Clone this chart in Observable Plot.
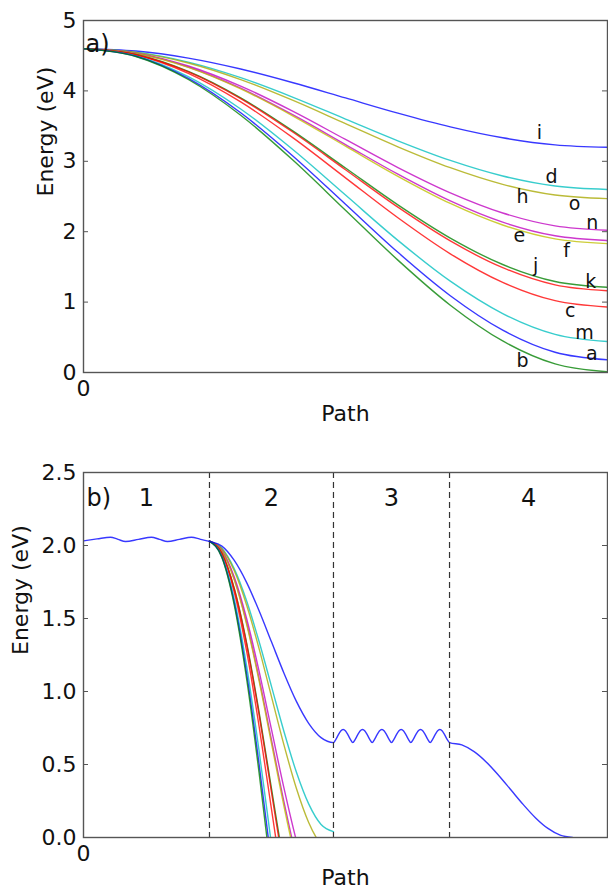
<!DOCTYPE html>
<html><head><meta charset="utf-8">
<script src="https://cdn.jsdelivr.net/npm/d3@7"></script>
<script src="https://cdn.jsdelivr.net/npm/@observablehq/plot@0.6"></script>
<style>body{margin:0;background:#fff} #chart svg{display:block}</style>
</head><body><div id="chart"></div>
<script>
// ---------- shared ----------
const pathSteps = [0, 0.1, 0.2, 0.3, 0.4, 0.5, 0.6, 0.7, 0.8, 0.9, 1];
const curveNames  = ["i", "d", "h", "n", "e", "f", "j", "k", "c", "m", "a", "b"];
const curveColors = ["#0000ff", "#00bfbf", "#a8a800", "#bf00bf", "#bf00bf", "#bfbf00",
                     "#008000", "#ff0000", "#ff0000", "#00bfbf", "#0000ff", "#008000"];

// ---------- panel a: energies along path (eV) ----------
const A_i = [4.6, 4.566, 4.466, 4.311, 4.116, 3.9, 3.684, 3.489, 3.334, 3.234, 3.2];
const A_d = [4.6, 4.551, 4.409, 4.188, 3.909, 3.6, 3.291, 3.012, 2.791, 2.649, 2.6];
const A_h = [4.6, 4.548, 4.397, 4.161, 3.864, 3.535, 3.206, 2.909, 2.673, 2.522, 2.47];
const A_n = [4.6, 4.537, 4.354, 4.068, 3.709, 3.31, 2.911, 2.552, 2.266, 2.083, 2.02];
const A_e = [4.6, 4.533, 4.34, 4.038, 3.658, 3.238, 2.817, 2.437, 2.135, 1.942, 1.875];
const A_f = [4.6, 4.532, 4.335, 4.029, 3.643, 3.215, 2.787, 2.401, 2.095, 1.898, 1.83];
const A_j = [4.6, 4.517, 4.276, 3.901, 3.429, 2.905, 2.381, 1.909, 1.534, 1.293, 1.21];
const A_k = [4.6, 4.516, 4.271, 3.891, 3.412, 2.88, 2.348, 1.869, 1.489, 1.244, 1.16];
const A_c = [4.6, 4.51, 4.25, 3.844, 3.332, 2.765, 2.198, 1.686, 1.28, 1.02, 0.93];
const A_m = [4.6, 4.498, 4.203, 3.743, 3.163, 2.52, 1.877, 1.297, 0.837, 0.542, 0.44];
const A_a = [4.6, 4.492, 4.178, 3.689, 3.073, 2.39, 1.707, 1.091, 0.602, 0.288, 0.18];
const A_b = [4.6, 4.488, 4.162, 3.654, 3.014, 2.305, 1.596, 0.956, 0.448, 0.122, 0.01];
const energiesA = [A_i, A_d, A_h, A_n, A_e, A_f, A_j, A_k, A_c, A_m, A_a, A_b];

const labelText = ["i", "d", "h", "o", "n", "e", "f", "j", "k", "c", "m", "a", "b"];
const labelX    = [0.870, 0.893, 0.838, 0.937, 0.971, 0.832, 0.922, 0.863, 0.968, 0.929, 0.956, 0.970, 0.838];
const labelY    = [3.41, 2.78, 2.49, 2.40, 2.13, 1.94, 1.73, 1.52, 1.28, 0.88, 0.56, 0.27, 0.17];
const yTicksA = [0, 1, 2, 3, 4, 5];
const xTicks = [0];

// ---------- panel b ----------
const regionBounds = [0, 1.016, 2.016, 2.952, 4.226];
const regionNames = ["1", "2", "3", "4"];
const yTicksB = [0, 0.5, 1.0, 1.5, 2.0, 2.5];

// region 1 (blue)
const R1_x = [0, 0.109, 0.218, 0.278, 0.339, 0.444, 0.548, 0.613, 0.677, 0.774, 0.871, 0.944, 1.016];
const R1_e = [2.032, 2.045, 2.057, 2.042, 2.027, 2.042, 2.057, 2.042, 2.027, 2.042, 2.057, 2.042, 2.028];
// region 2 (one per curve, sampled on pathSteps)
const B_i = [2.03, 1.996, 1.898, 1.746, 1.553, 1.34, 1.127, 0.934, 0.782, 0.684, 0.65];
const B_d = [2.03, 1.981, 1.84, 1.62, 1.342, 1.035, 0.728, 0.45, 0.23, 0.089, 0.04];
const B_h = [2.03, 1.978, 1.827, 1.591, 1.294, 0.965, 0.636, 0.339, 0.103, -0.048, -0.1];
const B_n = [2.03, 1.967, 1.784, 1.498, 1.139, 0.74, 0.341, -0.018, -0.304, -0.487];
const B_e = [2.03, 1.963, 1.77, 1.468, 1.089, 0.668, 0.247, -0.133, -0.435];
const B_f = [2.03, 1.962, 1.765, 1.459, 1.073, 0.645, 0.217, -0.169, -0.475];
const B_j = [2.03, 1.947, 1.706, 1.331, 0.859, 0.335, -0.189, -0.661];
const B_k = [2.03, 1.946, 1.701, 1.321, 0.841, 0.31, -0.221, -0.701];
const B_c = [2.03, 1.94, 1.68, 1.274, 0.762, 0.195, -0.372, -0.884];
const B_m = [2.03, 1.928, 1.633, 1.173, 0.593, -0.05, -0.693];
const B_a = [2.03, 1.922, 1.608, 1.119, 0.503, -0.18, -0.863];
const B_b = [2.03, 1.918, 1.592, 1.084, 0.444, -0.265, -0.974];
const energiesB = [B_i, B_d, B_h, B_n, B_e, B_f, B_j, B_k, B_c, B_m, B_a, B_b];
// region 3 (blue, oscillating)
const R3_e = [0.65, 0.672, 0.703, 0.73, 0.74, 0.73, 0.703, 0.672,
              0.65, 0.672, 0.703, 0.73, 0.74, 0.73, 0.703, 0.672,
              0.65, 0.672, 0.703, 0.73, 0.74, 0.73, 0.703, 0.672,
              0.65, 0.672, 0.703, 0.73, 0.74, 0.73, 0.703, 0.672,
              0.65, 0.672, 0.703, 0.73, 0.74, 0.73, 0.703, 0.672,
              0.65, 0.672, 0.703, 0.73, 0.74, 0.73, 0.703, 0.672, 0.65];
// region 4 (blue)
const R4_e = [0.65, 0.634, 0.588, 0.516, 0.425, 0.325, 0.225, 0.134, 0.062, 0.016, 0];
const R4_end = 3.944;

// ---------- styling ----------
const FONT = "DejaVu Sans, sans-serif";
const lineStyle = {strokeWidth: 1.4, strokeOpacity: 0.78, curve: "monotone-x", clip: true};
const spine = "#555";

function inwardTicks(vals, innerW) {
  return [
    Plot.tickY(vals, {y: d => d, stroke: spine, strokeWidth: 1, insetRight: innerW - 5}),
    Plot.tickY(vals, {y: d => d, stroke: spine, strokeWidth: 1, insetLeft: innerW - 5})
  ];
}

const W = 608, H = 445;
const mL = 83, mR = 1;
const innerW = W - mL - mR;

// ---------- panel a ----------
const marksA = [];
energiesA.forEach((arr, k) => {
  const rows = arr.map((e, i) => ({x: pathSteps[i], e}));
  marksA.push(Plot.line(rows, {x: "x", y: "e", stroke: curveColors[k], ...lineStyle}));
});
const labelRows = labelText.map((t, i) => ({t, x: labelX[i], y: labelY[i]}));

const plotA = Plot.plot({
  width: W, height: H,
  marginLeft: mL, marginRight: mR, marginTop: 20, marginBottom: 73,
  style: {fontFamily: FONT, fontSize: "22px", color: "#111", background: "#fff"},
  x: {domain: [0, 1]},
  y: {domain: [0, 5]},
  marks: [
    ...marksA,
    Plot.text(labelRows, {x: "x", y: "y", text: "t", fontSize: 19, fill: "#111"}),
    ...inwardTicks(yTicksA, innerW),
    Plot.axisY(yTicksA, {tickSize: 0, tickPadding: 7, label: null, tickFormat: d3.format("d")}),
    Plot.axisX(xTicks, {tickSize: 0, tickPadding: 8, label: null, tickFormat: d3.format("d")}),
    Plot.frame({stroke: spine, strokeWidth: 1.4}),
    Plot.text(["a)"], {frameAnchor: "top-left", textAnchor: "start", dx: 2, dy: 14, fontSize: 24, fill: "#111"}),
    Plot.text(["Energy (eV)"], {frameAnchor: "left", rotate: -90, dx: -38, fill: "#111"}),
    Plot.text(["Path"], {frameAnchor: "bottom", dy: 48, fill: "#111"})
  ]
});

// ---------- panel b ----------
const marksB = [];
energiesB.forEach((arr, k) => {
  if (k === 0) return;
  const rows = arr.map((e, i) => ({x: regionBounds[1] + pathSteps[i] * (regionBounds[2] - regionBounds[1]), e}));
  marksB.push(Plot.line(rows, {x: "x", y: "e", stroke: curveColors[k], ...lineStyle}));
});
// continuous blue path through all four regions
const bluePath = [];
R1_x.forEach((x, i) => bluePath.push({x, e: R1_e[i]}));
B_i.forEach((e, i) => { if (i > 0) bluePath.push({x: regionBounds[1] + pathSteps[i] * (regionBounds[2] - regionBounds[1]), e}); });
const n3 = R3_e.length - 1;
R3_e.forEach((e, i) => { if (i > 0) bluePath.push({x: regionBounds[2] + (i / n3) * (regionBounds[3] - regionBounds[2]), e}); });
R4_e.forEach((e, i) => { if (i > 0) bluePath.push({x: regionBounds[3] + pathSteps[i] * (R4_end - regionBounds[3]), e}); });

const regionRows = regionNames.map((t, i) => ({t, x: (regionBounds[i] + regionBounds[i + 1]) / 2}));

const plotB = Plot.plot({
  width: W, height: H,
  marginLeft: mL, marginRight: mR, marginTop: 27, marginBottom: 53,
  style: {fontFamily: FONT, fontSize: "22px", color: "#111", background: "#fff"},
  x: {domain: [regionBounds[0], regionBounds[4]]},
  y: {domain: [0, 2.5]},
  marks: [
    ...marksB,
    Plot.line(bluePath, {x: "x", y: "e", stroke: curveColors[0], ...lineStyle}),
    Plot.ruleX(regionBounds.slice(1, 4), {stroke: "#333", strokeWidth: 1.2, strokeDasharray: "6,4"}),
    Plot.text(regionRows, {x: "x", text: "t", frameAnchor: "top", dy: 16, fontSize: 24, fill: "#111"}),
    ...inwardTicks(yTicksB, innerW),
    Plot.axisY(yTicksB, {tickSize: 0, tickPadding: 7, label: null, tickFormat: d3.format(".1f")}),
    Plot.axisX(xTicks, {tickSize: 0, tickPadding: 8, label: null, tickFormat: d3.format("d")}),
    Plot.frame({stroke: spine, strokeWidth: 1.4}),
    Plot.text(["b)"], {frameAnchor: "top-left", textAnchor: "start", dx: 3, dy: 16, fontSize: 24, fill: "#111"}),
    Plot.text(["Energy (eV)"], {frameAnchor: "left", rotate: -90, dx: -63, fill: "#111"}),
    Plot.text(["Path"], {frameAnchor: "bottom", dy: 47, fill: "#111"})
  ]
});

const root = document.getElementById("chart");
root.appendChild(plotA);
root.appendChild(plotB);
</script>
</body></html>
